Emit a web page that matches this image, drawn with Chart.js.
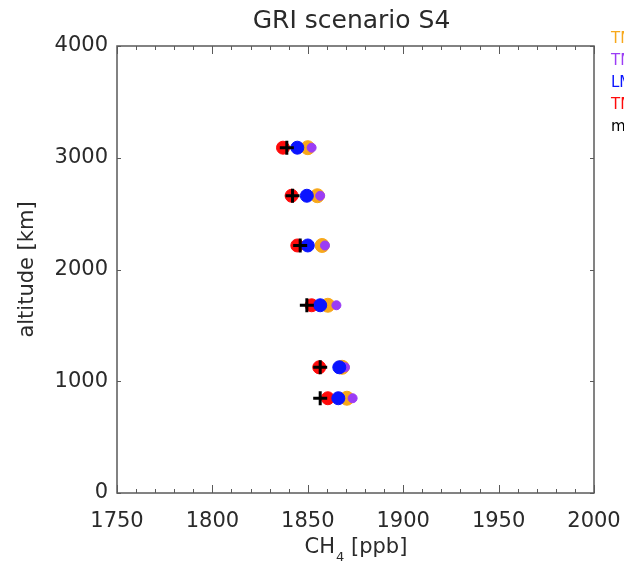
<!DOCTYPE html>
<html>
<head>
<meta charset="utf-8">
<script src="https://cdn.jsdelivr.net/npm/chart.js@4"></script>
<style>
  html, body { margin: 0; padding: 0; background: #fff; }
  #wrap { width: 624px; height: 567px; }
</style>
</head>
<body>
<div id="wrap"><canvas id="profile"></canvas></div>
<script>
// Altitude levels and CH4 values per model
const altitudes = [3090, 2660, 2215, 1680, 1125, 848];
const tm5 = [1850, 1855, 1857.5, 1860.5, 1868, 1870.5];
const tm3 = [1852, 1856.5, 1859, 1865, 1869.5, 1873.5];
const lmdz = [1844.5, 1849.5, 1850, 1856.5, 1866.5, 1866];
const tm54dvar = [1837, 1841.5, 1844.5, 1852, 1856, 1860.5];
const measured = [1839, 1842, 1846, 1849.5, 1856.5, 1856.5];

const seriesNames = ['TM5', 'TM3', 'LMDZ', 'TM5-4DVAR', 'measured'];
const seriesColors = ['#f7a81b', '#9b3cf5', '#0a14ff', '#ff0a0a', '#000000'];

const xTicks = [1750, 1800, 1850, 1900, 1950, 2000];
const yTicks = [0, 1000, 2000, 3000, 4000];

const FONT = 'DejaVu Sans';
const FRAME = '#5a5a5a';
const INK = '#2a2a2a';

function toPoints(xs) {
  return xs.map((x, i) => ({ x: x, y: altitudes[i] }));
}

// Frame, inward ticks, title and right-hand legend
const decorations = {
  id: 'decorations',
  afterDraw(chart) {
    const ctx = chart.ctx;
    const a = chart.chartArea;
    const xs = chart.scales.x;
    const ys = chart.scales.y;
    ctx.save();
    ctx.strokeStyle = FRAME;
    ctx.lineWidth = 1.5;
    ctx.strokeRect(a.left, a.top, a.right - a.left, a.bottom - a.top);

    ctx.lineWidth = 1;
    for (let v = 1750; v <= 2000; v += 10) {
      const px = Math.round(xs.getPixelForValue(v)) + 0.5;
      const len = v % 50 === 0 ? 8 : 4;
      ctx.beginPath();
      ctx.moveTo(px, a.bottom); ctx.lineTo(px, a.bottom - len);
      ctx.moveTo(px, a.top); ctx.lineTo(px, a.top + len);
      ctx.stroke();
    }
    for (let v = 0; v <= 4000; v += 1000) {
      const py = Math.round(ys.getPixelForValue(v)) + 0.5;
      ctx.beginPath();
      ctx.moveTo(a.left, py); ctx.lineTo(a.left + 4, py);
      ctx.moveTo(a.right, py); ctx.lineTo(a.right - 4, py);
      ctx.stroke();
    }

    ctx.fillStyle = INK;
    ctx.textAlign = 'center';
    ctx.textBaseline = 'middle';
    ctx.font = '25px ' + FONT;
    ctx.fillText('GRI scenario S4', (a.left + a.right) / 2 - 4, 21);

    // x axis title with subscript
    ctx.font = '21px ' + FONT;
    ctx.textAlign = 'left';
    const cx = (a.left + a.right) / 2;
    const part1 = 'CH';
    const part2 = ' [ppb]';
    const w1 = ctx.measureText(part1).width;
    ctx.font = '13px ' + FONT;
    const wSub = ctx.measureText('4').width;
    ctx.font = '21px ' + FONT;
    const w2 = ctx.measureText(part2).width;
    const sx = cx - (w1 + wSub + w2) / 2;
    const ty = 548;
    ctx.fillText(part1, sx, ty);
    ctx.font = '13px ' + FONT;
    ctx.fillText('4', sx + w1 + 1, ty + 10);
    ctx.font = '21px ' + FONT;
    ctx.fillText(part2, sx + w1 + wSub + 1, ty);

    // y axis title
    ctx.save();
    ctx.translate(28, (a.top + a.bottom) / 2);
    ctx.rotate(-Math.PI / 2);
    ctx.textAlign = 'center';
    ctx.fillText('altitude [km]', 0, 0);
    ctx.restore();

    // legend, running off the right edge
    ctx.font = '15px ' + FONT;
    ctx.textAlign = 'left';
    seriesNames.forEach((name, i) => {
      ctx.fillStyle = seriesColors[i];
      ctx.fillText(name, 611, 39 + i * 22);
    });
    ctx.restore();
  }
};

new Chart(document.getElementById('profile'), {
  type: 'scatter',
  data: {
    datasets: [
      { label: seriesNames[0], data: toPoints(tm5), backgroundColor: seriesColors[0], borderColor: seriesColors[0], pointRadius: 7, order: 5 },
      { label: seriesNames[1], data: toPoints(tm3), backgroundColor: seriesColors[1], borderColor: seriesColors[1], pointRadius: 4.5, order: 4 },
      { label: seriesNames[3], data: toPoints(tm54dvar), backgroundColor: seriesColors[3], borderColor: seriesColors[3], pointRadius: 6.5, order: 3 },
      { label: seriesNames[2], data: toPoints(lmdz), backgroundColor: seriesColors[2], borderColor: seriesColors[2], pointRadius: 6.5, order: 2 },
      { label: seriesNames[4], data: toPoints(measured), backgroundColor: seriesColors[4], borderColor: seriesColors[4], pointStyle: 'cross', pointRadius: 7, borderWidth: 3, order: 1 }
    ]
  },
  options: {
    responsive: true,
    maintainAspectRatio: false,
    animation: false,
    layout: { padding: { top: 46, right: 30, left: 0, bottom: 0 } },
    plugins: { legend: { display: false }, tooltip: { enabled: false } },
    scales: {
      x: {
        type: 'linear',
        min: 1750,
        max: 2000,
        afterBuildTicks: scale => { scale.ticks = xTicks.map(v => ({ value: v })); },
        afterFit: scale => { scale.height = 567 - 493; scale.paddingRight = 0; scale.paddingLeft = 0; },
        grid: { display: false, drawTicks: false },
        border: { display: false },
        ticks: { color: INK, padding: 16, font: { family: FONT, size: 21 }, maxRotation: 0, callback: v => String(v) }
      },
      y: {
        type: 'linear',
        min: 0,
        max: 4000,
        afterBuildTicks: scale => { scale.ticks = yTicks.map(v => ({ value: v })); },
        afterFit: scale => { scale.width = 117; scale.paddingTop = 0; scale.paddingBottom = 0; },
        grid: { display: false, drawTicks: false },
        border: { display: false },
        ticks: { color: INK, padding: 9, font: { family: FONT, size: 21 }, callback: v => String(v) }
      }
    }
  },
  plugins: [decorations]
});
</script>
</body>
</html>
